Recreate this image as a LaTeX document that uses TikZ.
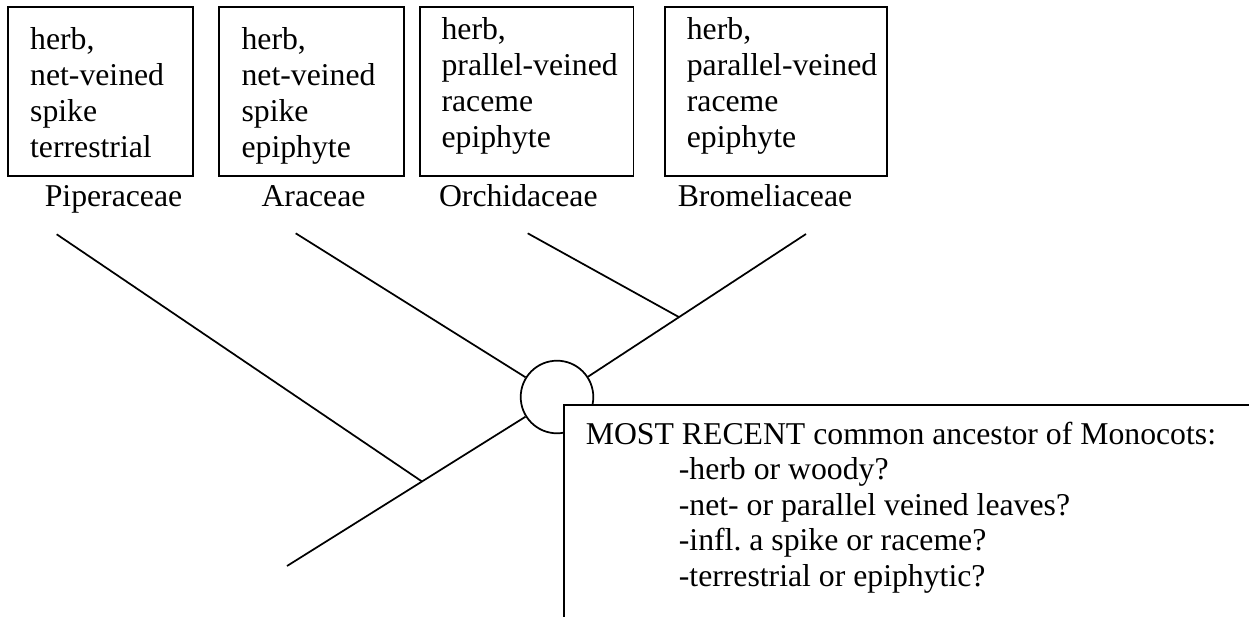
\documentclass[tikz,border=0pt]{standalone}
\usepackage{fontspec}
\setmainfont{Liberation Serif}[Ligatures=NoCommon]
\usetikzlibrary{calc}
\frenchspacing
\begin{document}
\begin{tikzpicture}[x=0.75pt,y=-0.75pt,line width=1.3pt,
  box/.style={draw,rectangle,inner sep=0pt,minimum height=126.3pt},
  txt/.style={inner sep=0pt,anchor=base west,font=\fontsize{23.8}{27}\selectfont},
  lbl/.style={inner sep=0pt,anchor=base,font=\fontsize{23.8}{27}\selectfont},
  branch/.style={line cap=butt},
  ancestor/.style={draw,circle,minimum size=54.45pt,inner sep=0pt},
  notebox/.style={draw,fill=white,rectangle,inner sep=0pt,minimum width=552pt,minimum height=221.25pt},
  notetxt/.style={inner sep=0pt,anchor=base west,font=\fontsize{23.8}{26.6}\selectfont}]
\useasboundingbox (0,0) rectangle (1249,617);
\clip (0,0) rectangle (1249,617);

% taxon boxes
\node[box,minimum width=138.75pt] (b1) at (100.8,91.5) {};
\node[box,minimum width=138.75pt] (b2) at (311.8,91.5) {};
\node[box,minimum width=160pt]    (b3) at (526.7,91.5) {};
\node[box,minimum width=166.3pt]  (b4) at (775.9,91.5) {};

\node[txt] (t1) at (29.3,49.5) {\begin{tabular}[t]{@{}l@{}}herb,\\net-veined\\spike\\terrestrial\end{tabular}};
\node[txt] (t2) at (240.7,49.5) {\begin{tabular}[t]{@{}l@{}}herb,\\net-veined\\spike\\epiphyte\end{tabular}};
\node[txt] (t3) at (440.7,40) {\begin{tabular}[t]{@{}l@{}}herb,\\prallel-veined\\raceme\\epiphyte\end{tabular}};
\node[txt] (t4) at (686,40) {\begin{tabular}[t]{@{}l@{}}herb,\\parallel-veined\\raceme\\epiphyte\end{tabular}};

% family names
\node[lbl] (l1) at (113.5,206) {Piperaceae};
\node[lbl] (l2) at (313.5,206) {Araceae};
\node[lbl] (l3) at (518.3,206) {Orchidaceae};
\node[lbl] (l4) at (765,206) {Bromeliaceae};

% tree
\node[ancestor] (anc) at (557,397) {};
\coordinate (pipT) at (56.7,234.3);
\coordinate (araT) at (295.7,233.3);
\coordinate (orcT) at (527.7,233.3);
\coordinate (broT) at (806,234);
\coordinate (root) at (287,566);
\coordinate (pj) at ($(root)!0.5!(anc.center)$);
\coordinate (oj) at ($(anc.center)!0.49!(broT)$);

\draw[branch] (root) -- (anc);
\draw[branch] (anc) -- (broT);
\draw[branch] (pipT) -- (pj);
\draw[branch] (araT) -- (anc);
\draw[branch] (orcT) -- (oj);

% note box
\node[notebox] (note) at (932,552.5) {};
\node[notetxt] (nt) at (585,444.5) {\begin{tabular}[t]{@{}l@{}}MOST RECENT common ancestor of Monocots:\\
\hspace*{69.75pt}-herb or woody?\\
\hspace*{69.75pt}-net- or parallel veined leaves?\\
\hspace*{69.75pt}-infl. a spike or raceme?\\
\hspace*{69.75pt}-terrestrial or epiphytic?\end{tabular}};
\end{tikzpicture}
\end{document}
